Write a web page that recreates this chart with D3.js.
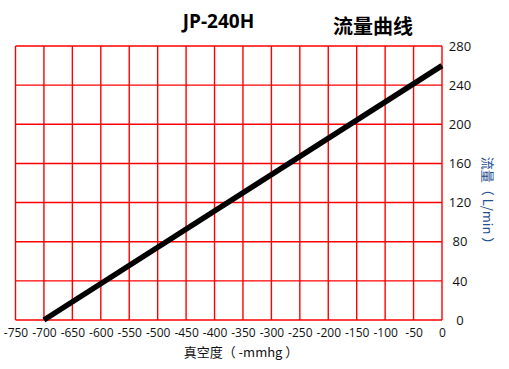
<!DOCTYPE html>
<html><head><meta charset="utf-8">
<script src="https://cdn.jsdelivr.net/npm/d3@7"></script>
<style>body{margin:0;background:#fff}svg{display:block}</style>
</head><body>
<script>
const title = "JP-240H";
const subtitle = "流量曲线";
const xTitle = "真空度（ -mmhg ）";
const yTitle = "流量（ L/min ）";
const xTicks = [-750,-700,-650,-600,-550,-500,-450,-400,-350,-300,-250,-200,-150,-100,-50,0];
const yTicks = [0,40,80,120,160,200,240,280];
const vacuum = [-700, 0];
const flow = [0, 260];

const W = 509, H = 369;
const svg = d3.select("body").append("svg").attr("width", W).attr("height", H);
const x = d3.scaleLinear().domain([-750, 0]).range([15.5, 442]);
const y = d3.scaleLinear().domain([0, 280]).range([320, 46]);

const grid = svg.append("g").attr("stroke", "#ff0000").attr("stroke-width", 1.4);
grid.selectAll("line.v").data(xTicks).join("line")
  .attr("x1", d => x(d)).attr("x2", d => x(d)).attr("y1", y(0)).attr("y2", y(280));
grid.selectAll("line.h").data(yTicks).join("line")
  .attr("y1", d => y(d)).attr("y2", d => y(d)).attr("x1", x(-750)).attr("x2", x(0));

const xAxis = svg.append("g").attr("transform", `translate(0,${y(0)})`)
  .call(d3.axisBottom(x).tickValues(xTicks).tickSize(0).tickPadding(8).tickFormat(d => String(d)));
xAxis.select(".domain").remove();
xAxis.selectAll("text").attr("font-family", "'Open Sans', sans-serif").attr("font-size", 12).attr("fill", "#111");

const yAxis = svg.append("g").attr("transform", `translate(${x(0)},0)`)
  .call(d3.axisRight(y).tickValues(yTicks).tickSize(0).tickPadding(18).tickFormat(d => String(d)));
yAxis.select(".domain").remove();
yAxis.selectAll("text").attr("font-family", "'Open Sans', sans-serif").attr("font-size", 13)
  .attr("fill", "#111").attr("text-anchor", "middle");

const line = d3.line().x((d, i) => x(vacuum[i])).y(d => y(d));
svg.append("path").datum(flow).attr("d", line)
  .attr("fill", "none").attr("stroke", "#000").attr("stroke-width", 5.5);

svg.append("text").attr("x", 218.5).attr("y", 27.5).attr("text-anchor", "middle")
  .attr("font-family", "'Open Sans', sans-serif").attr("font-weight", "bold").attr("font-size", 19)
  .attr("fill", "#000").text(title);
svg.append("text").attr("x", 373).attr("y", 34).attr("text-anchor", "middle")
  .attr("font-family", "'Noto Sans CJK SC', sans-serif").attr("font-weight", "bold").attr("font-size", 20)
  .attr("fill", "#000").text(subtitle);

svg.append("text").attr("x", 241).attr("y", 357).attr("text-anchor", "middle")
  .attr("font-family", "'Noto Sans CJK SC', sans-serif").attr("font-size", 13)
  .attr("fill", "#111").text(xTitle);
svg.append("text").attr("transform", "translate(483,203.5) rotate(90)").attr("text-anchor", "middle")
  .attr("font-family", "'Noto Sans CJK SC', sans-serif").attr("font-size", 13)
  .attr("fill", "#1f4f8f").text(yTitle);
</script>
</body></html>
